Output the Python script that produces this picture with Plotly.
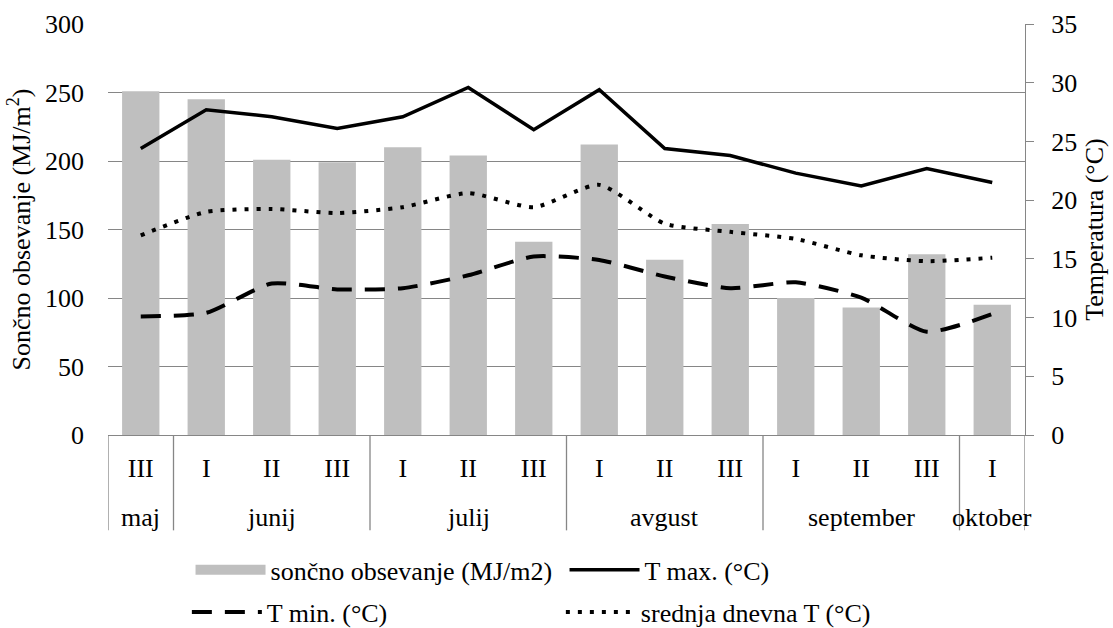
import plotly.graph_objects as go

months = ["maj", "junij", "junij", "junij", "julij", "julij", "julij",
          "avgust", "avgust", "avgust", "september", "september", "september", "oktober"]
decades = ["III", "I", "II", "III", "I", "II", "III", "I", "II", "III", "I", "II", "III", "I"]

obsevanje = [251, 245, 201, 199, 210, 204, 141, 212, 128, 154, 100, 93, 132, 95]
t_max = [24.4, 27.7, 27.1, 26.1, 27.1, 29.6, 26.0, 29.4, 24.4, 23.8, 22.3, 21.2, 22.7, 21.5]
t_min = [10.1, 10.4, 12.9, 12.4, 12.5, 13.6, 15.2, 14.9, 13.5, 12.5, 13.0, 11.7, 8.8, 10.3]
t_sred = [17.0, 19.0, 19.25, 18.9, 19.4, 20.6, 19.4, 21.3, 18.0, 17.3, 16.7, 15.3, 14.8, 15.1]

FONT = "Times New Roman, Liberation Serif, serif"
FS = 26
GRID = "#868686"
BAR = "#BFBFBF"
idx = list(range(len(decades)))

fig = go.Figure()
fig.add_trace(go.Bar(x=idx, y=obsevanje, name="sončno obsevanje (MJ/m2)", showlegend=False,
                     marker=dict(color=BAR, line=dict(width=0)), yaxis="y"))
# legend entries (row 1)
fig.add_trace(go.Scatter(x=[None], y=[None], name="sončno obsevanje (MJ/m2)", mode="lines",
                         line=dict(color=BAR, width=16), legend="legend"))
fig.add_trace(go.Scatter(x=idx, y=t_max, name="T max. (°C)", mode="lines",
                         line=dict(color="black", width=3.5), yaxis="y2", legend="legend"))
fig.add_trace(go.Scatter(x=idx, y=t_min, name="T min. (°C)", mode="lines",
                         line=dict(color="black", width=4, dash="20px,13px", shape="spline", smoothing=0.6),
                         yaxis="y2", legend="legend2"))
fig.add_trace(go.Scatter(x=idx, y=t_sred, name="srednja dnevna T (°C)", mode="lines",
                         line=dict(color="black", width=4, dash="4px,8px", shape="spline", smoothing=0.6),
                         yaxis="y2", legend="legend2"))

# month groups: labels and dividers
groups = []
for i, m in enumerate(months):
    if not groups or groups[-1][0] != m:
        groups.append([m, i, i])
    else:
        groups[-1][2] = i

shapes = []
annotations = []
for m, a, b in groups:
    annotations.append(dict(x=(a + b) / 2, y=-0.2, xref="x", yref="paper", text=m,
                            showarrow=False, yanchor="middle", font=dict(size=FS, family=FONT)))
    shapes.append(dict(type="line", x0=a - 0.5, x1=a - 0.5, y0=0, y1=-0.232, xref="x", yref="paper",
                       line=dict(color=GRID, width=1.3)))
shapes.append(dict(type="line", x0=len(idx) - 0.5, x1=len(idx) - 0.5, y0=0, y1=-0.232,
                   xref="x", yref="paper", line=dict(color=GRID, width=1.3)))

legend_common = dict(orientation="h", xanchor="left", yanchor="middle",
                     font=dict(size=FS, family=FONT), entrywidth=289, entrywidthmode="pixels",
                     itemwidth=70, tracegroupgap=0, bgcolor="rgba(0,0,0,0)")

fig.update_layout(
    width=1113, height=628,
    margin=dict(l=108, r=88, t=24, b=193, autoexpand=False),
    paper_bgcolor="white", plot_bgcolor="white",
    font=dict(family=FONT, size=FS, color="black"),
    bargap=0.43,
    showlegend=True,
    legend=dict(x=0.09, y=-0.328, **legend_common),
    legend2=dict(x=0.086, y=-0.431, **legend_common),
    xaxis=dict(range=[-0.5, len(idx) - 0.5], tickvals=idx, ticktext=decades,
               showline=True, linecolor=GRID, linewidth=1.3, ticks="", showgrid=False,
               zeroline=False, ticklabelstandoff=10, tickfont=dict(size=FS, family=FONT)),
    yaxis=dict(range=[0, 300], dtick=50, showgrid=True, gridcolor=GRID, gridwidth=1.3,
               showline=False, ticks="", zeroline=False, ticklabelstandoff=23,
               title=dict(text="Sončno obsevanje (MJ/m<sup>2</sup>)", font=dict(size=FS, family=FONT), standoff=6),
               tickfont=dict(size=FS, family=FONT)),
    yaxis2=dict(range=[0, 35], dtick=5, overlaying="y", side="right", showgrid=False,
                showline=True, linecolor=GRID, linewidth=1.3, ticks="outside",
                ticklen=8, tickcolor=GRID, zeroline=False, ticklabelstandoff=12,
                title=dict(text="Temperatura (°C)", font=dict(size=FS, family=FONT), standoff=8),
                tickfont=dict(size=FS, family=FONT)),
    shapes=shapes,
    annotations=annotations,
)

fig.write_html("out.html")
